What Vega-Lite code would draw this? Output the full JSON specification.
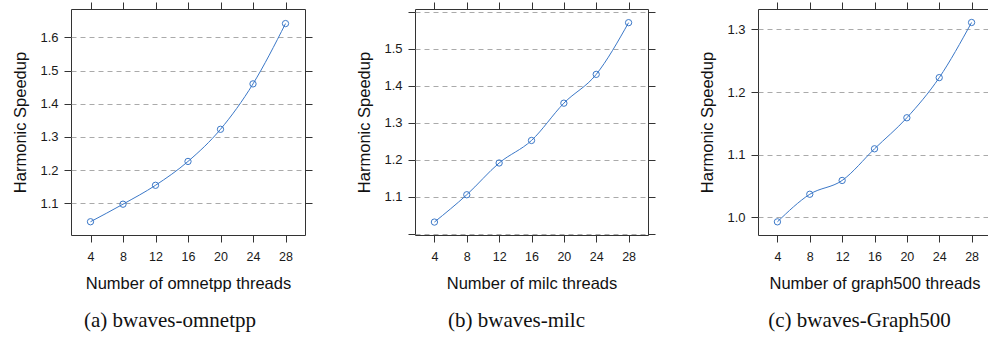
{
  "$schema": "https://vega.github.io/schema/vega-lite/v6.json",
  "padding": {"left": 12, "top": 1, "right": 0, "bottom": 0},
  "background": "white",
  "datasets": {
    "a": [
      {"threads": 4, "speedup": 1.044},
      {"threads": 8, "speedup": 1.097},
      {"threads": 12, "speedup": 1.154},
      {"threads": 16, "speedup": 1.226},
      {"threads": 20, "speedup": 1.323},
      {"threads": 24, "speedup": 1.460},
      {"threads": 28, "speedup": 1.642}
    ],
    "b": [
      {"threads": 4, "speedup": 1.031},
      {"threads": 8, "speedup": 1.105},
      {"threads": 12, "speedup": 1.191},
      {"threads": 16, "speedup": 1.252},
      {"threads": 20, "speedup": 1.353},
      {"threads": 24, "speedup": 1.431},
      {"threads": 28, "speedup": 1.571}
    ],
    "c": [
      {"threads": 4, "speedup": 0.993},
      {"threads": 8, "speedup": 1.037},
      {"threads": 12, "speedup": 1.059},
      {"threads": 16, "speedup": 1.1095},
      {"threads": 20, "speedup": 1.159},
      {"threads": 24, "speedup": 1.223},
      {"threads": 28, "speedup": 1.311}
    ]
  },
  "hconcat": [
    {
      "width": 234, "height": 226,
      "data": {"name": "a"},
      "title": {"text": "(a) bwaves-omnetpp", "dx": -18},
      "layer": [
        {
          "mark": {"type": "line", "interpolate": "monotone", "color": "#3b78c8", "strokeWidth": 1},
          "encoding": {
            "x": {"field": "threads", "type": "quantitative", "scale": {"domain": [1.6, 30.4], "nice": false, "zero": false},
                  "axis": {"orient": "bottom", "values": [4, 8, 12, 16, 20, 24, 28], "grid": false, "title": "Number of omnetpp threads"}},
            "y": {"field": "speedup", "type": "quantitative", "scale": {"domain": [1.004, 1.686], "nice": false, "zero": false},
                  "axis": {"orient": "left", "values": [1.1, 1.2, 1.3, 1.4, 1.5, 1.6], "format": ".1f", "grid": true, "title": "Harmonic Speedup"}}
          }
        },
        {
          "mark": {"type": "point", "shape": "circle", "filled": false, "size": 40, "strokeWidth": 1, "color": "#3b78c8", "opacity": 1},
          "encoding": {
            "x": {"field": "threads", "type": "quantitative", "axis": {"orient": "top", "values": [4, 8, 12, 16, 20, 24, 28], "labels": false, "title": null, "grid": false}},
            "y": {"field": "speedup", "type": "quantitative", "axis": {"orient": "right", "values": [1.1, 1.2, 1.3, 1.4, 1.5, 1.6], "labels": false, "title": null, "grid": false}}
          }
        }
      ],
      "resolve": {"axis": {"x": "independent", "y": "independent"}}
    },
    {
      "width": 233, "height": 226,
      "data": {"name": "b"},
      "title": {"text": "(b) bwaves-milc", "dx": -15},
      "layer": [
        {
          "mark": {"type": "line", "interpolate": "monotone", "color": "#3b78c8", "strokeWidth": 1},
          "encoding": {
            "x": {"field": "threads", "type": "quantitative", "scale": {"domain": [1.6, 30.4], "nice": false, "zero": false},
                  "axis": {"orient": "bottom", "values": [4, 8, 12, 16, 20, 24, 28], "grid": false, "title": "Number of milc threads"}},
            "y": {"field": "speedup", "type": "quantitative", "scale": {"domain": [0.996, 1.608], "nice": false, "zero": false},
                  "axis": {"orient": "left", "values": [1.0, 1.1, 1.2, 1.3, 1.4, 1.5, 1.6], "format": ".1f", "grid": true, "title": "Harmonic Speedup",
                           "labelExpr": "datum.value < 1.05 || datum.value > 1.55 ? '' : datum.label"}}
          }
        },
        {
          "mark": {"type": "point", "shape": "circle", "filled": false, "size": 40, "strokeWidth": 1, "color": "#3b78c8", "opacity": 1},
          "encoding": {
            "x": {"field": "threads", "type": "quantitative", "axis": {"orient": "top", "values": [4, 8, 12, 16, 20, 24, 28], "labels": false, "title": null, "grid": false}},
            "y": {"field": "speedup", "type": "quantitative", "axis": {"orient": "right", "values": [1.0, 1.1, 1.2, 1.3, 1.4, 1.5, 1.6], "labels": false, "title": null, "grid": false}}
          }
        }
      ],
      "resolve": {"axis": {"x": "independent", "y": "independent"}}
    },
    {
      "width": 233, "height": 226,
      "data": {"name": "c"},
      "title": {"text": "(c) bwaves-Graph500", "dx": -15},
      "layer": [
        {
          "mark": {"type": "line", "interpolate": "monotone", "color": "#3b78c8", "strokeWidth": 1},
          "encoding": {
            "x": {"field": "threads", "type": "quantitative", "scale": {"domain": [1.6, 30.4], "nice": false, "zero": false},
                  "axis": {"orient": "bottom", "values": [4, 8, 12, 16, 20, 24, 28], "grid": false, "title": "Number of graph500 threads"}},
            "y": {"field": "speedup", "type": "quantitative", "scale": {"domain": [0.972, 1.3325], "nice": false, "zero": false},
                  "axis": {"orient": "left", "values": [1.0, 1.1, 1.2, 1.3], "format": ".1f", "grid": true, "title": "Harmonic Speedup"}}
          }
        },
        {
          "mark": {"type": "point", "shape": "circle", "filled": false, "size": 40, "strokeWidth": 1, "color": "#3b78c8", "opacity": 1},
          "encoding": {
            "x": {"field": "threads", "type": "quantitative", "axis": {"orient": "top", "values": [4, 8, 12, 16, 20, 24, 28], "labels": false, "title": null, "grid": false}},
            "y": {"field": "speedup", "type": "quantitative", "axis": {"orient": "right", "values": [1.0, 1.1, 1.2, 1.3], "labels": false, "title": null, "grid": false}}
          }
        }
      ],
      "resolve": {"axis": {"x": "independent", "y": "independent"}}
    }
  ],
  "spacing": 110,
  "bounds": "flush",
  "config": {
    "view": {"stroke": "#333333", "strokeWidth": 1},
    "axis": {
      "domain": false,
      "ticks": true,
      "tickSize": 7,
      "tickWidth": 1,
      "tickColor": "#333333",
      "labelFont": "Liberation Sans",
      "labelColor": "#1a1a1a",
      "titleFont": "Liberation Sans",
      "titleFontSize": 16.5,
      "titleFontWeight": "normal",
      "titleColor": "#111111",
      "gridColor": "#aaaaaa",
      "gridDash": [5, 4],
      "gridWidth": 1
    },
    "axisX": {"titlePadding": 13, "labelPadding": 8, "labelFontSize": 12.5},
    "axisY": {"titlePadding": 11, "labelPadding": 6, "labelFontSize": 13},
    "title": {
      "orient": "bottom",
      "font": "Liberation Serif",
      "fontSize": 21,
      "fontWeight": "normal",
      "color": "#111111",
      "offset": 18,
      "anchor": "middle"
    }
  }
}
